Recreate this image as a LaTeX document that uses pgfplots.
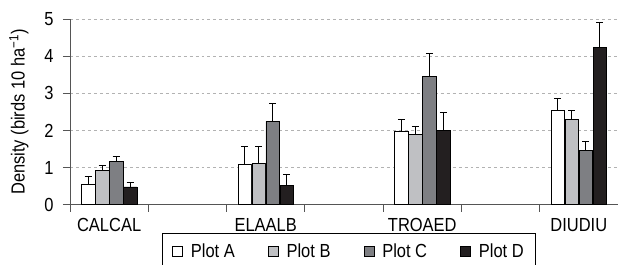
\documentclass[border=0pt]{standalone}
\usepackage{fontspec}
\setmainfont{Liberation Sans}[FakeStretch=0.87]
\usepackage{pgfplots}
\pgfplotsset{compat=1.18}
\usepackage{pgfplotstable}
\definecolor{cB}{HTML}{BFC0C3}
\definecolor{cC}{HTML}{7E7F83}
\definecolor{cD}{HTML}{231F20}
\definecolor{axgray}{HTML}{555555}
% x value err
\pgfplotstableread{
x y e
0 0.55 0.20
2 1.09 0.48
4 1.98 0.32
6 2.54 0.33
}\tA
\pgfplotstableread{
x y e
0 0.93 0.12
2 1.12 0.46
4 1.89 0.21
6 2.31 0.22
}\tB
\pgfplotstableread{
x y e
0 1.16 0.15
2 2.25 0.49
4 3.45 0.62
6 1.47 0.23
}\tC
\pgfplotstableread{
x y e
0 0.48 0.11
2 0.52 0.29
4 2.00 0.48
6 4.25 0.67
}\tD
\begin{document}
\fontsize{19}{22}\selectfont
\begin{tikzpicture}
\begin{axis}[
  scale only axis,
  width=548bp, height=185.4bp,
  xmin=-0.5, xmax=6.5,
  ymin=0, ymax=5,
  ytick={0,1,2,3,4,5},
  xtick={0,2,4,6},
  xticklabels={CALCAL,ELAALB,TROAED,DIUDIU},
  minor xtick={-0.5,0.5,...,5.5},
  major x tick style={draw=none},
  minor tick length=7bp,
  major tick length=7bp,
  tick align=outside,
  axis lines*=left,
  axis line style={axgray, line width=1pt},
  tick style={axgray, line width=1pt},
  ymajorgrids,
  grid style={dashed, gray!60, line width=0.6pt},
  /pgf/number format/assume math mode=true,
  tick label style={font=\fontsize{19}{22}\selectfont},
  xticklabel style={yshift=0bp},
  yticklabel style={xshift=-3bp},
  ylabel={Density (birds 10 ha\textsuperscript{−1})},
  ylabel style={font=\fontsize{19}{22}\selectfont, yshift=3bp},
  ybar=0.5bp, bar width=13.5bp,
  every axis plot/.append style={draw=black, line width=0.7pt},
  error bars/y dir=plus, error bars/y explicit,
  error bars/error bar style={black, line width=1pt},
  error bars/error mark options={rotate=90, mark size=3.5bp, line width=1pt},
  legend columns=4,
  legend style={at={(0.509,-0.153)}, anchor=north, draw=black, line width=1pt,
    font=\fontsize{19}{22}\selectfont, inner xsep=10bp, inner ysep=8bp,
    /tikz/every odd column/.append style={column sep=6bp},
    /tikz/every even column/.append style={column sep=31bp},
    /tikz/column 8/.style={column sep=0bp}},
  legend image code/.code={\draw[#1, draw=black, line width=0.8pt] (0bp,-5bp) rectangle (10bp,5bp);},
]
\addplot[fill=white] table[x=x, y=y, y error plus=e] {\tA};
\addplot[fill=cB] table[x=x, y=y, y error plus=e] {\tB};
\addplot[fill=cC] table[x=x, y=y, y error plus=e] {\tC};
\addplot[fill=cD] table[x=x, y=y, y error plus=e] {\tD};
\legend{Plot A, Plot B, Plot C, Plot D}
\coordinate (O) at (rel axis cs:0,0);
\end{axis}
\pgfresetboundingbox
\path ([shift={(-70bp,-60.3bp)}]O) rectangle ([shift={(548bp,204.7bp)}]O);
\end{tikzpicture}
\end{document}
